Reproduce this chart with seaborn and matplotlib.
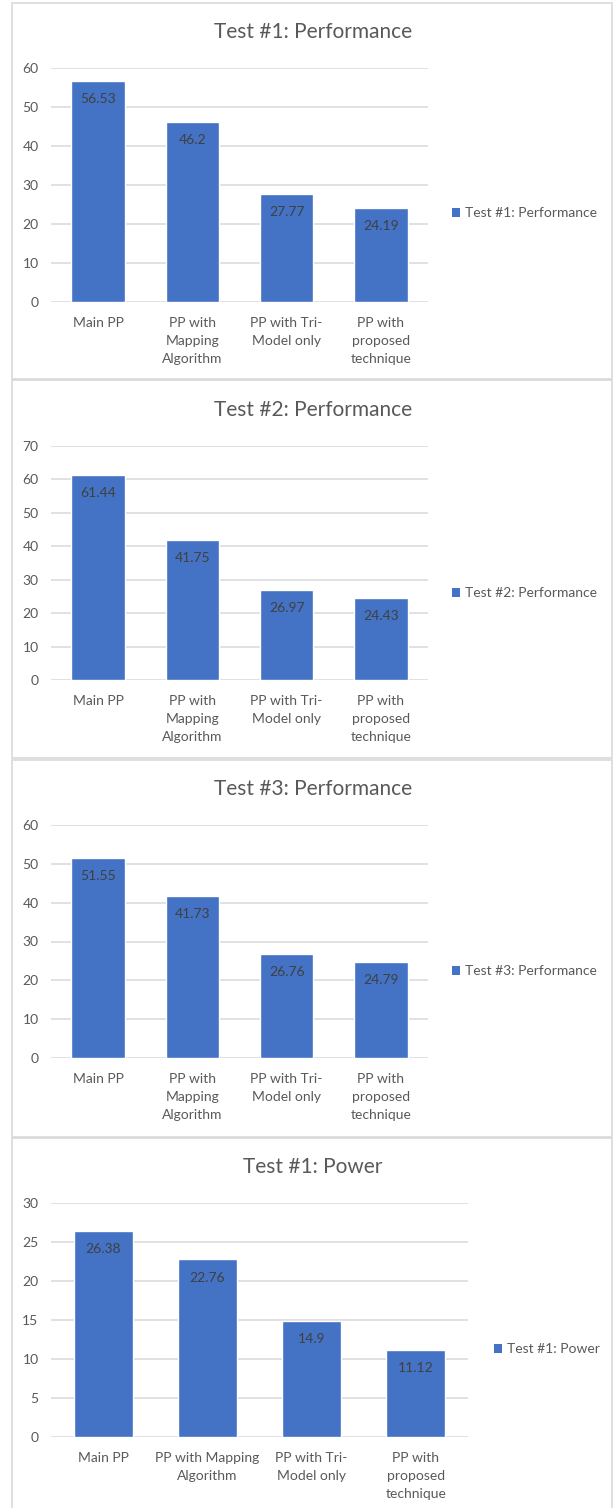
import matplotlib
matplotlib.use("Agg")
import matplotlib.pyplot as plt
from matplotlib.patches import Rectangle, Patch
import pandas as pd
import seaborn as sns

# ---- data ----
categories = ["Main PP", "PP with Mapping Algorithm", "PP with Tri-Model only",
              "PP with proposed technique"]
labels_narrow = ["Main PP", "PP with\nMapping\nAlgorithm", "PP with Tri-\nModel only",
                 "PP with\nproposed\ntechnique"]
labels_wide = ["Main PP", "PP with Mapping\nAlgorithm", "PP with Tri-\nModel only",
               "PP with\nproposed\ntechnique"]

test1_performance = [56.53, 46.2, 27.77, 24.19]
test2_performance = [61.44, 41.75, 26.97, 24.43]
test3_performance = [51.55, 41.73, 26.76, 24.79]
test1_power = [26.38, 22.76, 14.9, 11.12]

titles = ["Test #1: Performance", "Test #2: Performance",
          "Test #3: Performance", "Test #1: Power"]
series = [test1_performance, test2_performance, test3_performance, test1_power]
tick_labels = [labels_narrow, labels_narrow, labels_narrow, labels_wide]
y_max = [60, 70, 60, 30]
y_step = [10, 10, 10, 5]

# ---- style ----
sns.set_theme(style="white")
plt.rcParams["font.family"] = ["Lato", "DejaVu Sans"]

BAR = "#4472C4"
GRID = "#D9D9D9"
TEXT = "#595959"
LABEL = "#404040"

W, H = 613, 1508
fig = plt.figure(figsize=(W / 100, H / 100), dpi=100)
fig.patch.set_facecolor("white")


def fx(px):
    return px / W


def fy(py):
    return 1 - py / H


# panel layout in pixels: (frame_top, frame_bottom, title_y, plot_top, plot_bottom, plot_right, legend_y)
panels = [
    (3, 379, 32, 67.7, 302, 428, 213),
    (380, 758, 410, 446, 680, 428, 593),
    (760, 1137, 789, 825, 1058, 428, 971),
    (1138, 1515, 1167, 1203, 1437, 468, 1349),
]
PLOT_LEFT = 51

for i, (ft, fb, ty, pt, pb, pr, ly) in enumerate(panels):
    # panel frame
    fig.patches.append(Rectangle((fx(11.5), fy(fb)), fx(612) - fx(11.5), fy(ft) - fy(fb),
                                 transform=fig.transFigure, fill=False,
                                 edgecolor=GRID, linewidth=1.2, zorder=0))
    fig.text(fx(313), fy(ty), titles[i], ha="center", va="center",
             fontsize=15, color=TEXT)

    ax = fig.add_axes([fx(PLOT_LEFT), fy(pb), fx(pr) - fx(PLOT_LEFT), fy(pt) - fy(pb)])
    df = pd.DataFrame({"category": categories, "value": series[i]})
    sns.barplot(data=df, x="category", y="value", color=BAR, saturation=1,
                width=0.565, ax=ax, zorder=3)

    ax.set_ylim(0, y_max[i])
    ax.set_xlim(-0.5, len(categories) - 0.5)
    ax.set_yticks(range(0, y_max[i] + 1, y_step[i]))
    ax.set_xticks(range(len(categories)))
    ax.set_xticklabels(tick_labels[i], linespacing=1.62)
    ax.set_xlabel("")
    ax.set_ylabel("")
    ax.tick_params(axis="y", length=0, pad=9, labelsize=10, labelcolor=TEXT)
    ax.tick_params(axis="x", length=0, pad=10.5, labelsize=10, labelcolor=TEXT)
    for lbl in ax.get_xticklabels():
        lbl.set_verticalalignment("top")
    ax.grid(axis="y", color=GRID, linewidth=1.1, zorder=0)
    ax.set_axisbelow(True)
    for s in ax.spines.values():
        s.set_visible(False)
    ax.set_facecolor("none")

    # value labels just inside the top of each bar
    for xi, v in enumerate(series[i]):
        ax.annotate(f"{v:g}", xy=(xi, v), xytext=(0, -13), textcoords="offset points",
                    ha="center", va="center", fontsize=10, color=LABEL, zorder=4)

    ax.legend(handles=[Patch(facecolor=BAR, edgecolor="none", label=titles[i])],
              loc="center left", bbox_to_anchor=(fx(452 if i < 3 else 494), fy(ly)),
              bbox_transform=fig.transFigure, frameon=False, fontsize=10,
              handlelength=0.6, handleheight=0.6, handletextpad=0.35,
              borderpad=0, borderaxespad=0, labelcolor=TEXT)

fig.savefig("out.png", dpi=100, facecolor="white")
